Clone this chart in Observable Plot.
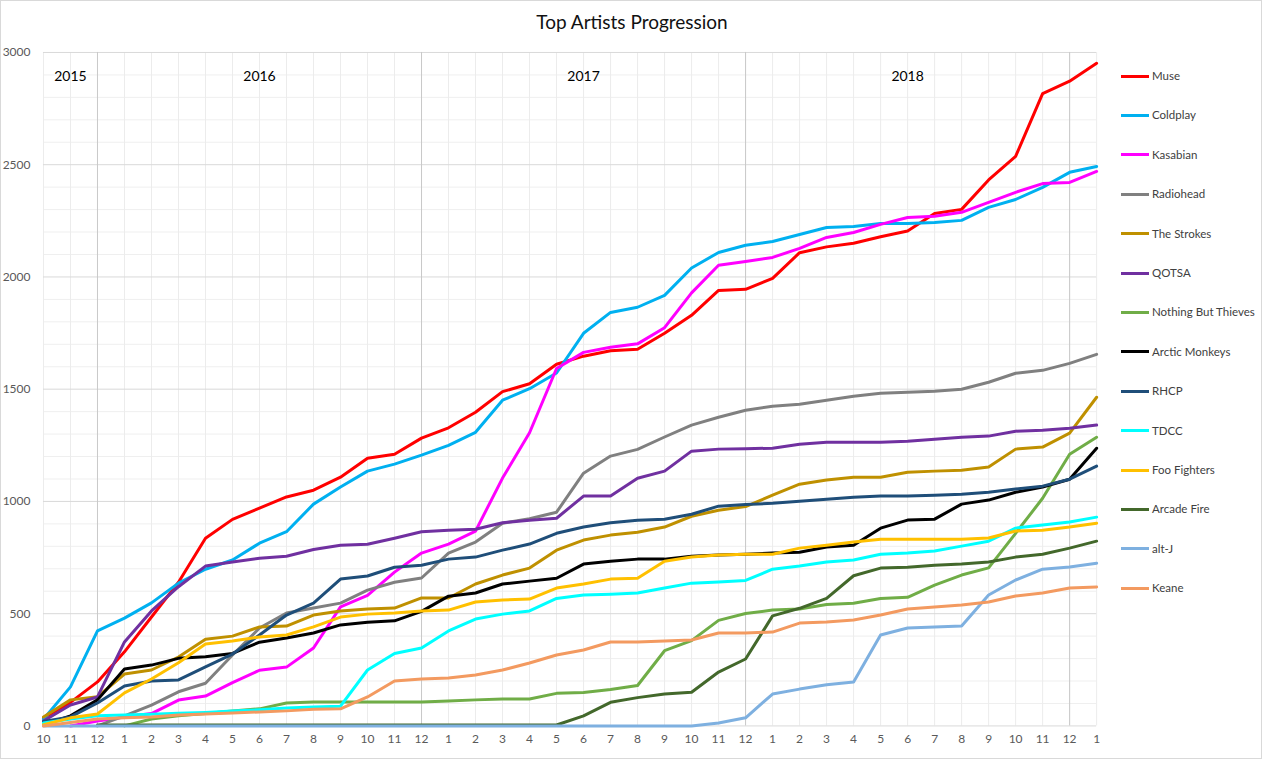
<!DOCTYPE html>
<html>
<head>
<meta charset="utf-8">
<script src="https://cdn.jsdelivr.net/npm/d3@7"></script>
<script src="https://cdn.jsdelivr.net/npm/@observablehq/plot@0.6"></script>
<style>
  html, body { margin: 0; padding: 0; background: #fff; }
  #wrap { position: relative; width: 1262px; height: 759px; box-sizing: border-box; border: 1px solid #d9d9d9; overflow: hidden; font-family: Lato, "Open Sans", sans-serif; }
  #chart { position: absolute; left: -1px; top: -1px; }
  #title { position: absolute; left: 0; width: 1262px; top: 9px; text-align: center; font-size: 19px; color: #111; }
  #legend { position: absolute; left: 1120px; top: 0; }
  .item { position: absolute; left: 0; height: 16px; width: 140px; white-space: nowrap; font-size: 11.5px; color: #404040; }
  .item span.sw { position: absolute; left: 0; top: 6.5px; width: 28px; height: 3px; }
  .item span.lb { position: absolute; left: 31px; top: 0; line-height: 16px; }
</style>
</head>
<body>
<div id="wrap">
  <div id="title">Top Artists Progression</div>
  <div id="chart"></div>
  <div id="legend"></div>
</div>
<script>
// Month tick labels (Oct 2015 .. Jan 2019)
const months = ["10","11","12","1","2","3","4","5","6","7","8","9","10","11","12",
                "1","2","3","4","5","6","7","8","9","10","11","12",
                "1","2","3","4","5","6","7","8","9","10","11","12","1"];
const yearLabels = ["2015","2016","2017","2018"];
const yearLabelAt = [1, 8, 20, 32];       // month index where each year label sits
const yearBreaks = [2, 14, 26, 38];       // December gridlines
const yearLabelValue = 2895;

const artists = ["Muse","Coldplay","Kasabian","Radiohead","The Strokes","QOTSA","Nothing But Thieves",
                 "Arctic Monkeys","RHCP","TDCC","Foo Fighters","Arcade Fire","alt-J","Keane"];
const colors = ["#FF0000","#00B0F0","#FF00FF","#808080","#BF9000","#7030A0","#70AD47",
                "#000000","#1F4E79","#00FFFF","#FFC000","#43682B","#7EB0E0","#F39A60"];

const muse = [35,105,196,330,485,640,836,920,970,1020,1050,1108,1192,1210,1282,
              1328,1397,1489,1524,1611,1647,1671,1678,1749,1829,1940,1945,
              1994,2108,2134,2150,2179,2205,2283,2301,2432,2537,2817,2872,2952];
const coldplay = [30,174,423,480,548,636,698,739,814,865,988,1064,1135,1166,1206,
                  1250,1308,1451,1502,1572,1749,1842,1865,1918,2040,2109,2141,
                  2158,2189,2220,2225,2238,2238,2243,2252,2310,2345,2399,2466,2492];
const kasabian = [null,0,22,40,55,115,133,193,248,262,347,530,582,685,770,
                  810,868,1104,1306,1592,1664,1687,1702,1774,1929,2052,2069,
                  2087,2127,2176,2198,2234,2265,2270,2288,2332,2377,2416,2421,2470];
const radiohead = [null,null,0,45,93,152,190,316,436,503,525,547,605,640,659,
                   770,819,903,923,952,1126,1202,1232,1287,1340,1375,1406,
                   1424,1433,1451,1469,1482,1486,1491,1500,1531,1571,1584,1615,1655];
const strokes = [40,116,130,231,249,307,386,400,441,445,494,512,521,525,570,
                 570,632,672,703,783,828,850,863,886,934,961,977,
                 1028,1077,1095,1108,1108,1130,1135,1139,1153,1233,1242,1304,1464];
const qotsa = [22,93,129,374,512,620,712,730,747,756,786,805,809,836,865,
               872,876,905,916,925,1024,1024,1103,1135,1224,1233,1235,
               1237,1255,1264,1264,1264,1268,1277,1286,1291,1313,1317,1326,1340];
const nbt = [null,null,null,0,31,45,55,67,76,102,107,107,107,107,107,
             111,116,120,120,145,149,162,180,335,380,470,501,
             516,521,541,546,568,573,627,672,704,858,1014,1210,1286];
const arctic = [5,45,116,254,271,301,308,323,373,392,414,450,462,468,510,
                578,592,632,645,658,721,734,743,743,756,761,765,
                770,774,797,805,881,917,921,988,1006,1041,1064,1099,1237];
const rhcp = [20,40,102,178,200,205,263,320,405,494,547,654,668,707,716,
              743,752,783,810,858,886,905,916,921,943,979,986,
              992,1001,1010,1019,1024,1024,1028,1032,1041,1055,1068,1099,1157];
const tdcc = [13,31,45,49,52,56,60,66,72,80,84,88,249,323,347,
              423,476,498,512,568,583,587,592,614,636,641,648,
              698,712,730,739,765,770,779,801,823,881,895,908,930];
const foo = [5,36,53,147,209,281,365,378,396,405,441,485,498,503,512,
             516,552,561,565,614,632,654,658,734,752,761,765,
             765,792,805,819,832,832,832,832,837,868,872,886,903];
const arcade = [null,null,4,4,4,4,4,4,4,4,4,4,4,4,4,
                4,4,4,4,4,45,105,126,142,150,240,298,
                490,524,568,669,703,707,716,721,730,752,765,792,823];
const altj = [0,0,0,0,0,0,0,0,0,0,0,0,0,0,0,
              0,0,0,0,0,0,0,0,0,0,13,36,
              142,164,183,196,405,436,441,445,583,650,698,708,725];
const keane = [0,15,31,36,40,49,53,58,62,67,74,76,129,200,209,
               213,227,249,280,316,338,374,374,378,383,414,414,
               418,458,463,472,494,521,530,539,552,579,592,614,619];

const seriesValues = [muse, coldplay, kasabian, radiohead, strokes, qotsa, nbt,
                      arctic, rhcp, tdcc, foo, arcade, altj, keane];

const rows = [];
artists.forEach((a, k) => {
  seriesValues[k].forEach((v, i) => rows.push({artist: a, i, value: v}));
});

const idx = d3.range(months.length);
const majorY = d3.range(0, 3001, 500);
const minorY = d3.range(0, 3001, 100).filter(v => v % 500 !== 0);
const years = yearLabels.map((t, k) => ({t, i: yearLabelAt[k], v: yearLabelValue}));

const plot = Plot.plot({
  width: 1262,
  height: 759,
  marginLeft: 43,
  marginRight: 165,
  marginTop: 52,
  marginBottom: 33,
  style: {fontFamily: "Lato, 'Open Sans', sans-serif", fontSize: "12px", color: "#595959", background: "transparent"},
  x: {type: "linear", domain: [0, months.length - 1], label: null},
  y: {domain: [0, 3000], label: null},
  color: {domain: artists, range: colors},
  marks: [
    Plot.ruleY(minorY, {stroke: "#efefef", strokeWidth: 1}),
    Plot.ruleX(idx, {stroke: "#ececec", strokeWidth: 1}),
    Plot.ruleY(majorY, {stroke: "#d9d9d9", strokeWidth: 1}),
    Plot.ruleX(yearBreaks, {stroke: "#c9c9c9", strokeWidth: 1}),
    Plot.axisY({ticks: majorY, tickSize: 0, tickPadding: 13, fontSize: 12, fill: "#595959",
                label: null, tickFormat: d => String(d)}),
    Plot.axisX({ticks: idx, tickSize: 0, tickPadding: 9, fontSize: 12, fill: "#595959",
                label: null, tickFormat: i => months[i]}),
    Plot.line(rows, {x: "i", y: "value", z: "artist", stroke: "artist", strokeWidth: 3,
                     strokeLinejoin: "round", strokeLinecap: "round"}),
    Plot.text(years, {x: "i", y: "v", text: "t", fill: "#000", fontSize: 14})
  ]
});
document.getElementById("chart").appendChild(plot);

// Legend
const legend = document.getElementById("legend");
const legendTop = 67, legendStep = 39.4;
artists.forEach((a, k) => {
  const it = document.createElement("div");
  it.className = "item";
  it.style.top = (legendTop + k * legendStep) + "px";
  const sw = document.createElement("span");
  sw.className = "sw";
  sw.style.background = colors[k];
  const lb = document.createElement("span");
  lb.className = "lb";
  lb.textContent = a;
  it.appendChild(sw); it.appendChild(lb);
  legend.appendChild(it);
});
</script>
</body>
</html>
